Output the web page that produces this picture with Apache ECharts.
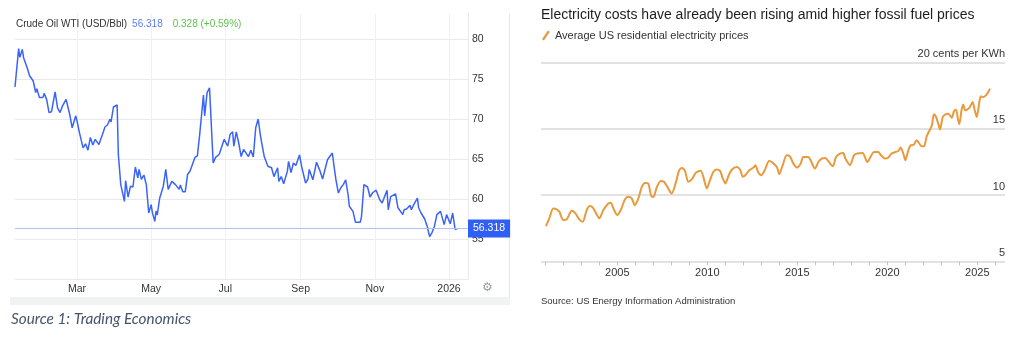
<!DOCTYPE html>
<html>
<head>
<meta charset="utf-8">
<script src="https://cdn.jsdelivr.net/npm/echarts@6/dist/echarts.min.js"></script>
<style>html,body{margin:0;padding:0;background:#fff}#c{width:1024px;height:340px}</style>
</head>
<body>
<div id="c"></div>
<script>
// ---- Left chart: Crude Oil WTI (days since 2025-01-01, USD/Bbl) ----
const oilDay = [8,11,12,14,15,18,20,23,25,26,28,31,32,34,36,38,41,43,45,47,50,53,55,58,59,61,64,66,68,70,72,74,77,80,82,84,86,87,89,92,93,95,98,99,101,103,105,107,109,110,112,114,116,118,120,121,123,124,125,127,130,132,134,137,140,143,144,146,148,150,152,156,158,160,163,164,166,168,171,173,176,180,183,185,187,188,190,192,194,196,200,202,204,206,208,210,213,216,219,221,224,225,227,229,232,233,235,237,239,242,244,247,249,250,253,256,259,261,265,269,271,272,274,276,278,280,282,283,286,288,292,293,295,298,300,302,305,308,310,312,314,315,317,321,323,327,328,330,333,334,336,339,340,342,345,347,349,351,353,355,358,361,363,366,368,370,372];
const oilPrice = [74.0,78.8,77.7,78.7,77.7,76.4,75.4,74.75,73.3,73.8,72.7,72.7,73.2,72.45,70.8,70.9,73.4,71.4,70.8,71.6,72.45,70.6,68.9,70.4,69.75,68.3,66.4,66.9,66.1,67.7,66.75,67.45,66.8,68.1,69.0,69.25,69.95,69.65,71.5,71.75,65.6,61.8,59.7,62.3,60.25,61.6,61.5,64.0,62.65,63.7,62.45,63.0,61.8,58.25,59.3,58.3,57.2,58.5,58.0,60.1,61.6,63.7,61.2,62.2,61.8,61.2,61.75,60.9,60.9,63.1,63.5,65.2,65.4,68.2,73.0,70.4,73.3,73.9,64.5,65.2,65.6,67.45,66.6,68.1,68.4,66.6,68.4,67.0,65.3,66.2,65.3,66.1,65.25,68.9,70.0,67.8,65.3,64.1,63.9,62.8,63.9,62.2,62.8,61.9,63.45,64.7,63.3,64.5,64.2,65.5,63.9,62.0,62.5,63.7,62.4,64.6,63.45,62.5,64.9,65.75,63.45,62.4,60.75,61.4,61.8,62.4,60.5,59.1,58.45,57.1,57.1,57.8,61.8,61.5,60.25,60.75,61.1,59.9,59.5,60.3,61.1,58.65,60.3,60.65,58.9,58.05,58.65,58.75,59.2,58.65,59.3,60.1,58.9,58.25,57.5,56.6,55.3,55.8,56.6,58.05,58.45,56.8,58.05,56.9,58.25,56.2,56.318];
const oilLast = 56.318;
const oilChange = '0.328 (+0.59%)';
const monthNames = ['Jan','Feb','Mar','Apr','May','Jun','Jul','Aug','Sep','Oct','Nov','Dec'];

// ---- Right chart: Average US residential electricity prices (cents per kWh) ----
const elecYear = [2001.04,2001.22,2001.44,2001.63,2001.78,2002.00,2002.19,2002.47,2002.65,2002.89,2003.08,2003.30,2003.48,2003.63,2003.82,2004.00,2004.22,2004.50,2004.63,2004.82,2005.00,2005.19,2005.43,2005.61,2005.80,2005.97,2006.17,2006.36,2006.54,2006.72,2006.91,2007.04,2007.19,2007.41,2007.59,2007.78,2008.02,2008.21,2008.44,2008.59,2008.76,2008.94,2009.13,2009.33,2009.44,2009.63,2009.78,2009.97,2010.15,2010.33,2010.52,2010.71,2010.86,2011.00,2011.19,2011.37,2011.63,2011.82,2011.97,2012.15,2012.33,2012.56,2012.67,2012.82,2013.00,2013.19,2013.44,2013.86,2014.00,2014.19,2014.41,2014.59,2014.78,2015.00,2015.19,2015.33,2015.61,2015.74,2015.98,2016.17,2016.36,2016.54,2016.97,2017.15,2017.37,2017.56,2017.67,2017.93,2018.15,2018.33,2018.63,2018.89,2019.26,2019.50,2019.65,2019.87,2020.06,2020.24,2020.61,2020.74,2020.89,2021.00,2021.17,2021.30,2021.48,2021.63,2021.91,2022.04,2022.19,2022.33,2022.48,2022.59,2022.71,2022.83,2022.93,2023.08,2023.21,2023.39,2023.58,2023.71,2023.82,2023.93,2024.00,2024.13,2024.22,2024.33,2024.59,2024.74,2024.86,2024.97,2025.08,2025.19,2025.33,2025.48,2025.61,2025.71];
const elecPrice = [7.66,8.24,8.99,8.92,8.74,8.11,8.17,8.81,8.66,8.17,7.98,8.87,9.17,9.07,8.62,8.24,8.87,9.37,9.42,8.87,8.49,8.87,9.69,9.87,9.75,9.24,9.75,10.62,10.92,10.88,9.87,9.92,10.58,11.07,11.0,10.62,10.12,10.75,11.88,12.05,11.83,11.0,11.18,11.63,11.75,11.83,11.38,10.5,11.13,11.75,11.93,11.83,11.25,10.88,11.5,11.93,12.13,11.93,11.38,11.56,11.88,12.08,12.26,11.75,11.5,11.88,12.6,12.13,11.58,12.26,13.01,12.93,12.38,12.08,12.38,12.88,12.88,12.63,12.0,12.5,12.76,12.81,12.18,12.88,13.14,13.18,12.76,12.26,13.01,13.14,13.18,12.5,13.26,13.26,13.01,12.76,12.84,13.14,13.33,13.59,13.14,12.63,13.39,13.76,13.82,14.14,13.69,13.69,14.44,14.84,15.27,16.1,15.9,15.4,14.95,15.9,16.08,16.15,15.85,16.35,16.45,15.7,15.35,16.45,16.85,16.4,16.65,17.03,16.4,15.9,16.7,17.46,17.4,17.53,17.78,18.04];
const yearLabels = [2005, 2010, 2015, 2020, 2025];
const yearTicks = [2001,2002,2003,2004,2005,2006,2007,2008,2009,2010,2011,2012,2013,2014,2015,2016,2017,2018,2019,2020,2021,2022,2023,2024,2025,2026];

const DAY = 86400000;
const base = Date.UTC(2025, 0, 1);
const oilData = oilDay.map((d, i) => [base + d * DAY, oilPrice[i]]);
const elecData = elecYear.map((y, i) => [y, elecPrice[i]]);

const chart = echarts.init(document.getElementById('c'), null, {renderer: 'canvas'});
const FONT = 'Liberation Sans, Arial, Helvetica, sans-serif';
chart.setOption({
  useUTC: true,
  animation: false,
  textStyle: {fontFamily: FONT},
  title: [
    {left: 16, top: 15, padding: 0,
     text: '{t|Crude Oil WTI (USD/Bbl)} {b|' + oilLast + '}  {g|' + oilChange + '}',
     textStyle: {rich: {
       t: {fontSize: 10, color: '#333', fontWeight: 'normal', fontFamily: FONT},
       b: {fontSize: 10, color: '#5b7cf5', fontWeight: 'normal', fontFamily: FONT},
       g: {fontSize: 10, color: '#5fbf4f', fontWeight: 'normal', fontFamily: FONT}}}},
    {left: 541, top: 8, padding: 0,
     text: 'Electricity costs have already been rising amid higher fossil fuel prices',
     textStyle: {fontSize: 14, fontWeight: 'normal', color: '#1d1d1d', fontFamily: FONT}},
    {left: 541, top: 296, padding: 0,
     text: 'Source: US Energy Information Administration',
     textStyle: {fontSize: 9.5, fontWeight: 'normal', color: '#333', fontFamily: FONT}},
    {left: 11, top: 312, padding: 0,
     text: 'Source 1: Trading Economics',
     textStyle: {fontSize: 15.3, fontStyle: 'italic', fontWeight: 'normal', color: '#44546a', fontFamily: 'Lato'}}
  ],
  legend: {
    left: 542, top: 30, padding: 0,
    data: ['Average US residential electricity prices'],
    icon: 'path://M0,9 L6,0 L8,1.2 L2,10.2 Z',
    itemWidth: 8, itemHeight: 10,
    textStyle: {fontSize: 11, color: '#333', fontFamily: FONT}
  },
  grid: [
    {left: 15, right: 556, top: 13, bottom: 61},
    {left: 541, right: 19, top: 62.7, bottom: 78.7}
  ],
  xAxis: [
    {type: 'time', gridIndex: 0,
     min: oilData[0][0], max: base + 380.6 * DAY,
     axisLine: {show: false}, axisTick: {show: false},
     axisLabel: {color: '#333', fontSize: 10.5, margin: 5, fontFamily: FONT,
       formatter: function (v) { const d = new Date(v); const m = d.getUTCMonth(); return m === 0 ? String(d.getUTCFullYear()) : monthNames[m]; }},
     splitLine: {show: true, showMinLine: false, showMaxLine: false, lineStyle: {color: '#f0f1f3', width: 1}}},
    {type: 'value', gridIndex: 1, min: 2000.76, max: 2026.54,
     axisLine: {show: false},
     axisTick: {show: true, customValues: yearTicks, length: 4, lineStyle: {color: '#c4c4c4', width: 1}},
     axisLabel: {customValues: yearLabels, color: '#333', fontSize: 11, margin: 6, fontFamily: FONT,
       formatter: function (v) { return String(Math.round(v)); }},
     splitLine: {show: false}}
  ],
  yAxis: [
    {type: 'value', gridIndex: 0, position: 'right', min: 50, max: 83.25, interval: 5,
     axisLine: {show: true, lineStyle: {color: '#e9eaec'}}, axisTick: {show: false},
     axisLabel: {color: '#333', fontSize: 10.5, margin: 4, showMinLabel: false, showMaxLabel: false, fontFamily: FONT},
     splitLine: {show: true, showMaxLine: false, lineStyle: {color: '#e8e9eb', width: 1}}},
    {type: 'value', gridIndex: 1, position: 'right', min: 5, max: 20, interval: 5,
     axisLine: {show: false}, axisTick: {show: false},
     axisLabel: {inside: true, margin: 0, color: '#333', fontSize: 11, verticalAlign: 'bottom', padding: [0, 0, 3, 0], fontFamily: FONT,
       formatter: function (v) { return v === 20 ? '20 cents per KWh' : String(v); }},
     splitLine: {show: true, lineStyle: {color: '#d9d9d9', width: 1.5}}}
  ],
  series: [
    {name: 'Crude Oil WTI', type: 'line', xAxisIndex: 0, yAxisIndex: 0, data: oilData,
     showSymbol: false, lineStyle: {color: '#3a64f8', width: 1.5}, itemStyle: {color: '#3a64f8'},
     markLine: {silent: true, symbol: ['none', 'none'], animation: false,
       lineStyle: {color: '#aebffa', width: 1, type: 'solid'},
       label: {show: true, position: 'end', distance: 0, formatter: String(oilLast),
         backgroundColor: '#2f5ff4', color: '#fff', fontSize: 10.5, padding: [4, 5, 3, 5], fontFamily: FONT},
       data: [{yAxis: oilLast}]}},
    {name: 'Average US residential electricity prices', type: 'line', xAxisIndex: 1, yAxisIndex: 1, data: elecData,
     showSymbol: false, smooth: 0.25, lineStyle: {color: '#e99a3c', width: 2}, itemStyle: {color: '#e99a3c'}}
  ],
  graphic: [
    {type: 'rect', shape: {x: 10, y: 297, width: 500, height: 8}, style: {fill: '#f1f2f3'}, silent: true},
    {type: 'line', shape: {x1: 509.5, y1: 14, x2: 509.5, y2: 297}, style: {stroke: '#e6e7e9', lineWidth: 1}, silent: true},
    {type: 'text', x: 482, y: 282, style: {text: '\u2699', fontSize: 12, fill: '#9a9a9a', fontFamily: 'DejaVu Sans'}, silent: true}
  ]
});
</script>
</body>
</html>
